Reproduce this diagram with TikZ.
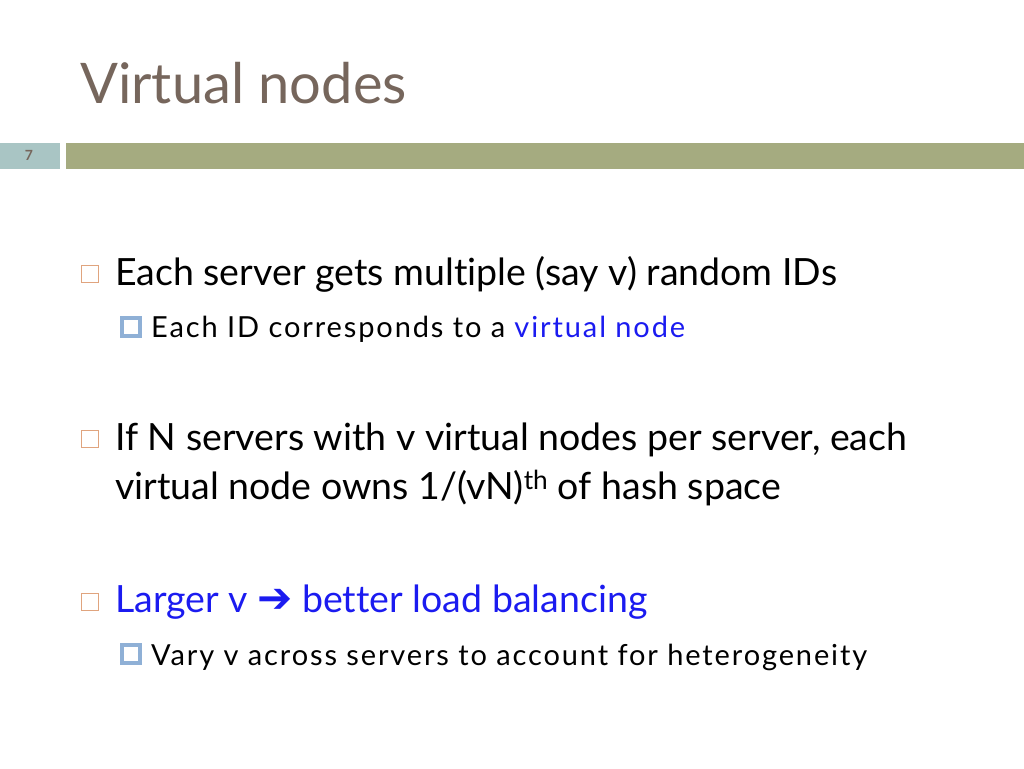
\documentclass[tikz,border=0pt]{standalone}
\usepackage{fontspec}
\setmainfont{Lato}[Ligatures=NoCommon]
\newfontfamily\arrowfont{DejaVu Sans}
\begin{document}
\begin{tikzpicture}[x=1pt,y=-1pt,
  txt/.style={anchor=base west,inner sep=0pt,font=\fontsize{37.5}{44}\selectfont},
  sub/.style={anchor=base west,inner sep=0pt,font=\fontsize{29}{34}\selectfont\addfontfeature{LetterSpace=6.5}},
  bulA/.style={draw=bulorange,line width=1.6pt,fill=white,minimum size=17pt,inner sep=0pt},
  bulB/.style={draw=bulblue,line width=4.5pt,fill=white,minimum size=18pt,inner sep=0pt}]
\definecolor{titlec}{HTML}{76665C}
\definecolor{barc}{HTML}{A5AB80}
\definecolor{boxc}{HTML}{A9C5C4}
\definecolor{bulorange}{HTML}{E0A47E}
\definecolor{bulblue}{HTML}{8FB0D6}
\definecolor{vblue}{HTML}{1B1BF0}
\useasboundingbox (0,0) rectangle (1024,768);
\node[anchor=base west,inner sep=0pt,text=titlec,font=\fontsize{56}{66}\selectfont] (title) at (80,103) {Virtual nodes};
\fill[boxc] (0,143) rectangle (60,169);
\fill[barc] (66,143) rectangle (1024,169);
\node[text=titlec,font=\bfseries\fontsize{14}{15}\selectfont] (num) at (29,155) {7};
\node[bulA] (b1) at (90,274) {};
\node[txt] (t1) at (115,285) {Each server gets multiple (say v) random IDs};
\node[bulB] (b2) at (131,327) {};
\node[sub] (t2) at (151,337) {Each ID corresponds to a \textcolor{vblue}{virtual node}};
\node[bulA] (b3) at (90,439) {};
\node[txt] (t3) at (115,450) {If N servers with v virtual nodes per server, each};
\node[txt] (t4) at (115,499) {virtual node owns 1/(vN)\textsuperscript{th} of hash space};
\node[bulA] (b4) at (90,602) {};
\node[txt,text=vblue] (t5) at (115,612) {Larger v {\arrowfont\bfseries\fontsize{42}{44}\selectfont ➔} better load balancing};
\node[bulB] (b5) at (131,654) {};
\node[sub] (t6) at (151,665) {Vary v across servers to account for heterogeneity};
\end{tikzpicture}
\end{document}
